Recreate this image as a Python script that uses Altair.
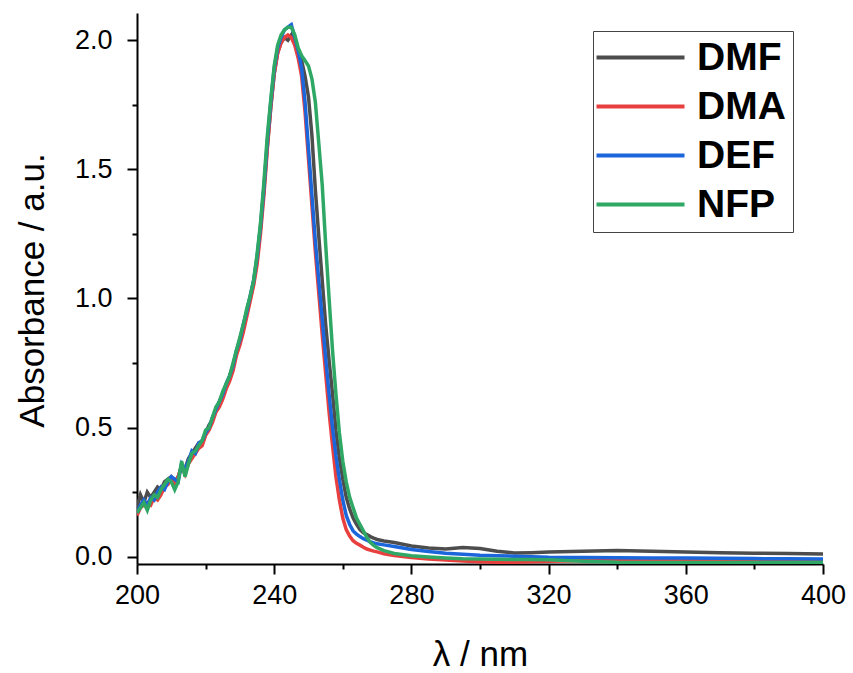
import altair as alt
import pandas as pd

# wavelength grid (nm)
wl_main = list(range(200, 271))
wl_tail = [272, 275, 280, 285, 290, 295, 300, 305, 310, 315, 320, 330, 340, 350, 360, 370, 380, 390, 400]
wavelengths = wl_main + wl_tail

series_names = ["DMF", "DMA", "DEF", "NFP"]
series_colors = ["#4d4d4d", "#e8403e", "#1c66dc", "#30a865"]

dmf = [0.19, 0.24, 0.21, 0.25, 0.23, 0.25, 0.27, 0.26, 0.29, 0.30,
       0.31, 0.29, 0.31, 0.35, 0.34, 0.38, 0.40, 0.42, 0.44, 0.44,
       0.48, 0.51, 0.53, 0.57, 0.60, 0.63, 0.66, 0.70, 0.74, 0.79,
       0.84, 0.89, 0.95, 1.00, 1.06, 1.15, 1.27, 1.42, 1.59, 1.74,
       1.87, 1.95, 1.99, 2.01, 2.00,
       2.02, 1.99, 1.96, 1.92, 1.86, 1.78, 1.63, 1.42, 1.24, 1.07,
       0.90, 0.76, 0.63, 0.49, 0.38, 0.30, 0.23, 0.185, 0.15, 0.125,
       0.105, 0.093, 0.086, 0.078, 0.072, 0.067,
       0.061, 0.055, 0.042, 0.034, 0.030, 0.036, 0.032, 0.021, 0.015, 0.016,
       0.018, 0.021, 0.024, 0.021, 0.018, 0.016, 0.014, 0.013, 0.011]

dma = [0.16, 0.19, 0.20, 0.21, 0.20, 0.23, 0.22, 0.24, 0.27, 0.28,
       0.30, 0.28, 0.31, 0.35, 0.32, 0.36, 0.38, 0.40, 0.42, 0.43,
       0.47, 0.49, 0.52, 0.56, 0.58, 0.61, 0.65, 0.68, 0.72, 0.78,
       0.82, 0.87, 0.93, 0.99, 1.05, 1.13, 1.25, 1.40, 1.58, 1.74,
       1.87, 1.95, 1.99, 2.01, 2.02,
       2.01, 1.98, 1.93, 1.86, 1.72, 1.54, 1.36, 1.18, 1.02, 0.86,
       0.71, 0.56, 0.43, 0.31, 0.22, 0.15, 0.105, 0.08, 0.062, 0.052,
       0.045, 0.037, 0.030, 0.026, 0.022, 0.019,
       0.012, 0.005, -0.003, -0.009, -0.013, -0.016, -0.019, -0.021, -0.021, -0.019,
       -0.017, -0.015, -0.014, -0.013, -0.013, -0.014, -0.015, -0.015, -0.016]

def_ = [0.17, 0.20, 0.22, 0.20, 0.23, 0.22, 0.25, 0.27, 0.26, 0.29,
        0.31, 0.30, 0.29, 0.36, 0.34, 0.37, 0.41, 0.40, 0.44, 0.45,
        0.48, 0.50, 0.54, 0.57, 0.60, 0.63, 0.67, 0.70, 0.74, 0.80,
        0.84, 0.90, 0.95, 1.01, 1.07, 1.16, 1.28, 1.43, 1.61, 1.76,
        1.89, 1.97, 2.01, 2.04, 2.05,
        2.06, 2.01, 1.96, 1.89, 1.76, 1.58, 1.40, 1.22, 1.07, 0.92,
        0.77, 0.63, 0.50, 0.39, 0.30, 0.22, 0.16, 0.125, 0.10, 0.088,
        0.078, 0.070, 0.064, 0.058, 0.054, 0.050,
        0.046, 0.040, 0.028, 0.020, 0.014, 0.010, 0.006, 0.004, 0.002, 0.000,
        -0.002, -0.003, -0.004, -0.005, -0.005, -0.006, -0.007, -0.008, -0.009]

nfp = [0.17, 0.19, 0.21, 0.18, 0.22, 0.24, 0.23, 0.26, 0.28, 0.30,
       0.29, 0.26, 0.29, 0.37, 0.31, 0.36, 0.40, 0.41, 0.43, 0.45,
       0.49, 0.50, 0.54, 0.58, 0.60, 0.64, 0.67, 0.70, 0.75, 0.80,
       0.85, 0.90, 0.96, 1.01, 1.07, 1.17, 1.29, 1.45, 1.63, 1.77,
       1.90, 1.98, 2.02, 2.04, 2.05,
       2.05, 2.02, 1.97, 1.94, 1.92, 1.90, 1.85, 1.76, 1.60, 1.44,
       1.21, 1.00, 0.80, 0.63, 0.48, 0.37, 0.29, 0.23, 0.19, 0.15,
       0.125, 0.10, 0.075, 0.056, 0.044, 0.035,
       0.024, 0.013, 0.004, -0.001, -0.005, -0.008, -0.009, -0.010, -0.011, -0.011,
       -0.012, -0.017, -0.021, -0.022, -0.022, -0.022, -0.022, -0.022, -0.022]

x_ticks = [200, 220, 240, 260, 280, 300, 320, 340, 360, 380, 400]
y_ticks = [0.0, 0.25, 0.5, 0.75, 1.0, 1.25, 1.5, 1.75, 2.0]

rows = []
for name, vals in zip(series_names, [dmf, dma, def_, nfp]):
    for i, (w, a) in enumerate(zip(wavelengths, vals)):
        rows.append({"wl": w, "abs": a, "solvent": name, "order": i})
df = pd.DataFrame(rows)

FONT = "Liberation Sans"
Y_MAJOR = "abs(datum.value*2 - round(datum.value*2)) < 0.001"

chart = alt.Chart(df).mark_line(strokeWidth=3.5, clip=True).encode(
    x=alt.X("wl:Q",
            scale=alt.Scale(domain=[200, 400], nice=False, zero=False),
            axis=alt.Axis(values=x_ticks, title="λ / nm",
                          labelExpr="datum.value % 40 === 0 ? datum.label : ''",
                          tickSize={"condition": {"test": "datum.value % 40 === 0", "value": 10}, "value": 5},
                          labelFlush=False, labelOverlap=False,
                          labelPadding=8, titleX=343, titleY=101, titleBaseline="alphabetic",
                          titleAnchor="middle", titleAlign="center")),
    y=alt.Y("abs:Q",
            scale=alt.Scale(domain=[-0.028, 2.105], nice=False, zero=False),
            axis=alt.Axis(values=y_ticks, title="Absorbance / a.u.",
                          labelExpr=Y_MAJOR + " ? format(datum.value, '.1f') : ''",
                          tickSize={"condition": {"test": Y_MAJOR, "value": 10}, "value": 5},
                          labelFlush=False, labelOverlap=False,
                          labelPadding=15, titleX=-94, titleY=277, titleBaseline="alphabetic",
                          titleAlign="center", titleAngle=270)),
    color=alt.Color("solvent:N",
                    scale=alt.Scale(domain=series_names, range=series_colors),
                    legend=alt.Legend(title=None, orient="none", legendX=456, legendY=18,
                                      symbolType="M-4,0L4,0", symbolSize=484, symbolStrokeWidth=4,
                                      symbolOffset=21, labelOffset=37,
                                      labelFontSize=39, labelFontWeight="bold", labelFont=FONT,
                                      padding=7, strokeColor="#444",
                                      fillColor="white", rowPadding=9, labelColor="black")),
    order=alt.Order("order:Q"),
).properties(
    width=686, height=551,
    autosize=alt.AutoSizeParams(type="none"),
    padding={"left": 137, "top": 13, "right": 30, "bottom": 109},
).configure_view(stroke=None).configure_axis(
    grid=False, domainColor="black", domainWidth=2, tickColor="black", tickWidth=2,
    labelFont=FONT, labelFontSize=27, labelColor="black",
    titleFont=FONT, titleFontSize=35, titleFontWeight="normal", titleColor="black",
)

chart.save("out.html", embed_options={"renderer": "svg", "actions": False})
